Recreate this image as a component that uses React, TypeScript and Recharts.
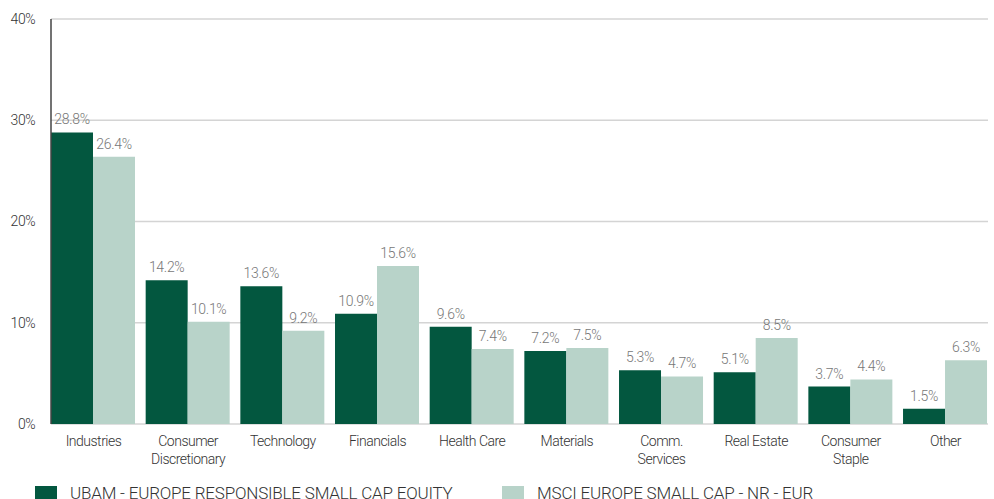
import React from "react";
import { BarChart, Bar, XAxis, YAxis, CartesianGrid, LabelList } from "recharts";

const categories = [
  "Industries",
  "Consumer\nDiscretionary",
  "Technology",
  "Financials",
  "Health Care",
  "Materials",
  "Comm.\nServices",
  "Real Estate",
  "Consumer\nStaple",
  "Other",
];
const fundValues = [28.8, 14.2, 13.6, 10.9, 9.6, 7.2, 5.3, 5.1, 3.7, 1.5];
const benchmarkValues = [26.4, 10.1, 9.2, 15.6, 7.4, 7.5, 4.7, 8.5, 4.4, 6.3];
const yTicks = [0, 10, 20, 30, 40];
const fundName = "UBAM - EUROPE RESPONSIBLE SMALL CAP EQUITY";
const benchName = "MSCI EUROPE SMALL CAP - NR - EUR";

const data = categories.map((c, i) => ({ name: c, fund: fundValues[i], bench: benchmarkValues[i] }));

const FONT = '"Roboto", "Liberation Sans", sans-serif';
const DARK = "#03573f";
const LIGHT = "#b8d3c9";

const XTick = (props: any) => {
  const { x, y, payload } = props;
  const lines = String(payload.value).split("\n");
  return (
    <text x={x} y={y} textAnchor="middle" fill="#333" fontSize={14} fontWeight={300} letterSpacing={-0.5} fontFamily={FONT}>
      {lines.map((l, i) => (
        <tspan key={i} x={x} dy={i === 0 ? 14 : 18}>
          {l}
        </tspan>
      ))}
    </text>
  );
};

const labelStyle = { fill: "#777", fontSize: 14, fontWeight: 300, letterSpacing: -0.3, fontFamily: FONT };

export default function App() {
  return (
    <div style={{ position: "absolute", left: 0, top: 0, width: 994, height: 499, background: "#fff", overflow: "hidden" }}>
      <BarChart
        width={994}
        height={499}
        data={data}
        margin={{ top: 19, right: 6, left: 8, bottom: 45 }}
        barCategoryGap={4.85}
        barGap={0}
      >
        <CartesianGrid vertical={false} stroke="#d4d4d4" strokeWidth={1.5} />
        <XAxis
          dataKey="name"
          axisLine={false}
          tickLine={false}
          interval={0}
          height={30}
          padding={{ left: -4.85, right: -4.85 }}
          tick={<XTick />}
        />
        <YAxis
          domain={[0, 40]}
          ticks={yTicks}
          width={43}
          tickLine={false}
          tickSize={8}
          tickMargin={8}
          axisLine={{ stroke: "#444", strokeWidth: 1.5 }}
          tickFormatter={(v: number) => `${v}%`}
          tick={{ fill: "#333", fontSize: 14, fontWeight: 300, letterSpacing: -0.5, fontFamily: FONT }}
        />
        <Bar dataKey="fund" name={fundName} fill={DARK} isAnimationActive={false}>
          <LabelList dataKey="fund" position="top" offset={8} formatter={(v: number) => `${v.toFixed(1)}%`} style={labelStyle} />
        </Bar>
        <Bar dataKey="bench" name={benchName} fill={LIGHT} isAnimationActive={false}>
          <LabelList dataKey="bench" position="top" offset={8} formatter={(v: number) => `${v.toFixed(1)}%`} style={labelStyle} />
        </Bar>
      </BarChart>
      <div style={{ position: "absolute", left: 0, top: 483, width: 994, height: 20, fontFamily: FONT, fontSize: 17, fontWeight: 300, letterSpacing: -0.2, color: "#333" }}>
        <div style={{ position: "absolute", left: 35, top: 3, width: 22, height: 20, background: DARK }} />
        <div style={{ position: "absolute", left: 70, top: 0, whiteSpace: "nowrap", lineHeight: "20px" }}>{fundName}</div>
        <div style={{ position: "absolute", left: 502, top: 3, width: 22, height: 20, background: LIGHT }} />
        <div style={{ position: "absolute", left: 537, top: 0, whiteSpace: "nowrap", lineHeight: "20px" }}>{benchName}</div>
      </div>
    </div>
  );
}
